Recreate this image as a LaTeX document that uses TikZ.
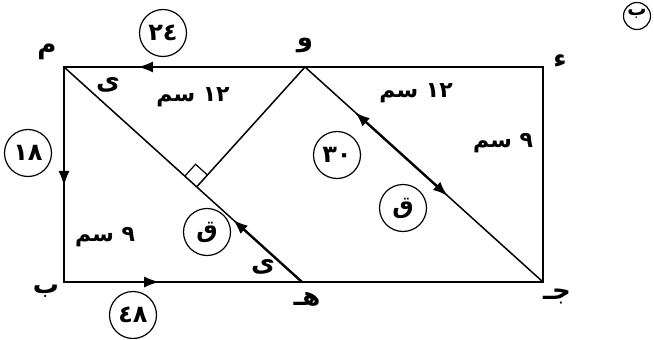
\documentclass[tikz,border=0pt]{standalone}
\usepackage{fontspec}
\usetikzlibrary{arrows.meta,calc}
\TeXXeTstate=1
\newfontfamily\arabicfont[Script=Arabic]{DejaVu Sans}
\begin{document}
\begin{tikzpicture}[x=1pt,y=-1pt,
  edge/.style={line width=1.5pt},
  force/.style={line width=2.4pt},
  tipend/.style={-{Latex[length=15pt,width=11pt]}},
  numcircle/.style={circle,draw,line width=1.2pt,minimum size=47pt,inner sep=0pt,
    font=\arabicfont\bfseries\fontsize{24}{24}\selectfont},
  lbl/.style={inner sep=0pt,font=\arabicfont\bfseries\fontsize{22}{22}\selectfont},
  ptlbl/.style={inner sep=0pt,font=\arabicfont\bfseries\fontsize{26}{26}\selectfont}]
\useasboundingbox (0,0) rectangle (654,340);
% points
\coordinate (A) at (64,67);
\coordinate (B) at (64,282);
\coordinate (C) at (543,282);
\coordinate (D) at (543,67);
\coordinate (W) at (305,67);
\coordinate (H) at (302,282);
\coordinate (F) at ($(A)!(W)!(H)$);
% frame and lines
\draw[edge] (A) -- (B) -- (C) -- (D) -- cycle;
\draw[edge] (A) -- (H);
\draw[edge] (W) -- (C);
\draw[edge] (W) -- (F);
% right angle
\coordinate (P1) at ($(F)!16pt!(A)$);
\coordinate (P2) at ($(F)!16pt!(W)$);
\draw[line width=1.2pt] (P1) -- ($(P1)+(P2)-(F)$) -- (P2);
% arrows on edges
\draw[edge,tipend] ($(W)!0.55!(A)$) -- ($(W)!0.693!(A)$);
\draw[edge,tipend] ($(A)!0.4!(B)$) -- ($(A)!0.553!(B)$);
\draw[edge,tipend] ($(B)!0.25!(H)$) -- ($(B)!0.40!(H)$);
\draw[force,tipend] (H) -- ($(H)!0.29!(A)$);
\draw[force,{Latex[length=15pt,width=11pt]}-{Latex[length=15pt,width=11pt]}] ($(W)!0.21!(C)$) -- ($(W)!0.60!(C)$);
% circled values
\node[numcircle] (c24) at (163,33) {٢٤};
\node[numcircle] (c18) at (28,153) {١٨};
\node[numcircle] (c48) at (133,315) {٤٨};
\node[numcircle] (q1) at (207,232) {ق};
\node[numcircle] (c30) at (337,155) {٣٠};
\node[numcircle] (q2) at (403,208) {ق};
\node[circle,draw,line width=1.2pt,minimum size=27pt,inner sep=0pt] (cb) at (637,16) {};
\node[inner sep=0pt,font=\arabicfont\bfseries\fontsize{19}{19}\selectfont] (cbt) at ($(cb.center)+(0,-2)$) {ب};
% point labels
\node[ptlbl] (lA) at (47,52) {م};
\node[ptlbl] (lB) at (46,291) {ب};
\node[ptlbl] (lC) at (557,296) {\beginR جـ\endR};
\node[ptlbl] (lD) at (560,61) {ء};
\node[ptlbl] (lW) at (305,45) {و};
\node[ptlbl] (lH) at (307,299) {\beginR هـ\endR};
% angle marks
\node[ptlbl] (y1) at (108,85) {ى};
\node[ptlbl] (y2) at (263,267) {ى};
% lengths
\node[lbl] (s1) at (193,97) {\beginR\beginL١٢\endL{} سم\endR};
\node[lbl] (s2) at (416,93) {\beginR\beginL١٢\endL{} سم\endR};
\node[lbl] (s3) at (503,143) {\beginR\beginL٩\endL{} سم\endR};
\node[lbl] (s4) at (105,237) {\beginR\beginL٩\endL{} سم\endR};
\end{tikzpicture}
\end{document}
